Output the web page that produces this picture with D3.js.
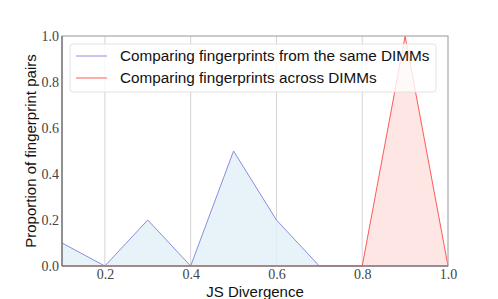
<!DOCTYPE html>
<html>
<head>
<meta charset="utf-8">
<script src="https://cdn.jsdelivr.net/npm/d3@7"></script>
<style>
  body { margin: 0; background: #fff; }
  .tick text { font-family: "Liberation Serif", "DejaVu Serif", serif !important; }
</style>
</head>
<body>
<div id="chart"></div>
<script>
const xs = [0.1, 0.2, 0.3, 0.4, 0.5, 0.6, 0.7, 0.8, 0.9, 1.0];
const sameDimm = [0.1, 0, 0.2, 0, 0.5, 0.2, 0, 0, 0, 0];
const acrossDimm = [0, 0, 0, 0, 0, 0, 0, 0, 1.0, 0];
const xTicks = [0.2, 0.4, 0.6, 0.8, 1.0];
const yTicks = [0.0, 0.2, 0.4, 0.6, 0.8, 1.0];
const seriesNames = ["Comparing fingerprints from the same DIMMs", "Comparing fingerprints across DIMMs"];

const margin = {top: 36, right: 50, bottom: 33, left: 62},
    width = 498 - margin.left - margin.right,
    height = 299 - margin.top - margin.bottom;

const svg = d3.select("#chart")
  .append("svg")
    .attr("width", 498)
    .attr("height", 299)
  .append("g")
    .attr("transform", `translate(${margin.left}, ${margin.top})`);

const x = d3.scaleLinear().domain([0.1, 1.0]).range([0, width]);
const y = d3.scaleLinear().domain([0, 1.0]).range([height, 0]);

// vertical grid only
svg.append("g")
  .selectAll("line")
  .data(xTicks.slice(0, -1))
  .enter()
  .append("line")
    .attr("x1", d => x(d)).attr("x2", d => x(d))
    .attr("y1", 0).attr("y2", height)
    .attr("stroke", "#d4d4d4")
    .attr("stroke-width", 1);

const series = [
  {values: sameDimm, line: "#8c8cde", fill: "#e3f1f8"},
  {values: acrossDimm, line: "#ff5a5a", fill: "#fde2df"}
];

const area = d3.area().x((d, i) => x(xs[i])).y0(y(0)).y1(d => y(d));
const line = d3.line().x((d, i) => x(xs[i])).y(d => y(d));

series.forEach(s => {
  svg.append("path").datum(s.values)
    .attr("d", area)
    .attr("fill", s.fill)
    .attr("fill-opacity", 0.85);
});
series.forEach(s => {
  svg.append("path").datum(s.values)
    .attr("d", line)
    .attr("fill", "none")
    .attr("stroke", s.line)
    .attr("stroke-width", 1);
});

// spines
svg.append("rect")
  .attr("x", 0).attr("y", 0)
  .attr("width", width).attr("height", height)
  .attr("fill", "none")
  .attr("stroke", "#a8a8a8")
  .attr("stroke-width", 1.2);
svg.append("line").attr("x1", 0).attr("x2", 0).attr("y1", 0).attr("y2", height)
  .attr("stroke", "#6a6a6a").attr("stroke-width", 1.2);
svg.append("line").attr("x1", 0).attr("x2", width).attr("y1", height).attr("y2", height)
  .attr("stroke", "#7a6a6a").attr("stroke-width", 1.2);

const xAxis = svg.append("g")
  .attr("transform", `translate(0, ${height})`)
  .call(d3.axisBottom(x).tickValues(xTicks).tickSize(0).tickPadding(3.5).tickFormat(d3.format(".1f")));
const yAxis = svg.append("g")
  .call(d3.axisLeft(y).tickValues(yTicks).tickSize(0).tickPadding(3).tickFormat(d3.format(".1f")));

[xAxis, yAxis].forEach(a => {
  a.attr("font-family", null).attr("font-size", null);
  a.select(".domain").remove();
  a.selectAll("text")
    .style("font-size", "14px")
    .attr("fill", "#444");
});

svg.append("text")
  .attr("x", width / 2)
  .attr("y", height + 31)
  .attr("text-anchor", "middle")
  .style("font-family", "'Liberation Sans', Arial, sans-serif")
  .style("font-size", "15px")
  .attr("fill", "#111")
  .text("JS Divergence");

svg.append("text")
  .attr("transform", `translate(-31, ${height / 2}) rotate(-90)`)
  .attr("text-anchor", "middle")
  .attr("dy", "0.35em")
  .style("font-family", "'Liberation Sans', Arial, sans-serif")
  .style("font-size", "15px")
  .attr("fill", "#111")
  .text("Proportion of fingerprint pairs");

// legend
const legend = svg.append("g").attr("transform", "translate(8, 8)");
legend.append("rect")
  .attr("width", 366).attr("height", 48)
  .attr("rx", 3)
  .attr("fill", "#fff").attr("fill-opacity", 0.8)
  .attr("stroke", "#e2e2e2");
seriesNames.forEach((name, i) => {
  const g = legend.append("g").attr("transform", `translate(0, ${12 + i * 22})`);
  g.append("line")
    .attr("x1", 6).attr("x2", 37)
    .attr("y1", 0).attr("y2", 0)
    .attr("stroke", series[i].line);
  g.append("text")
    .attr("x", 50).attr("y", 0)
    .attr("dy", "0.35em")
    .style("font-family", "'Liberation Sans', Arial, sans-serif")
    .style("font-size", "15.3px")
    .attr("fill", "#111")
    .text(name);
});
</script>
</body>
</html>
